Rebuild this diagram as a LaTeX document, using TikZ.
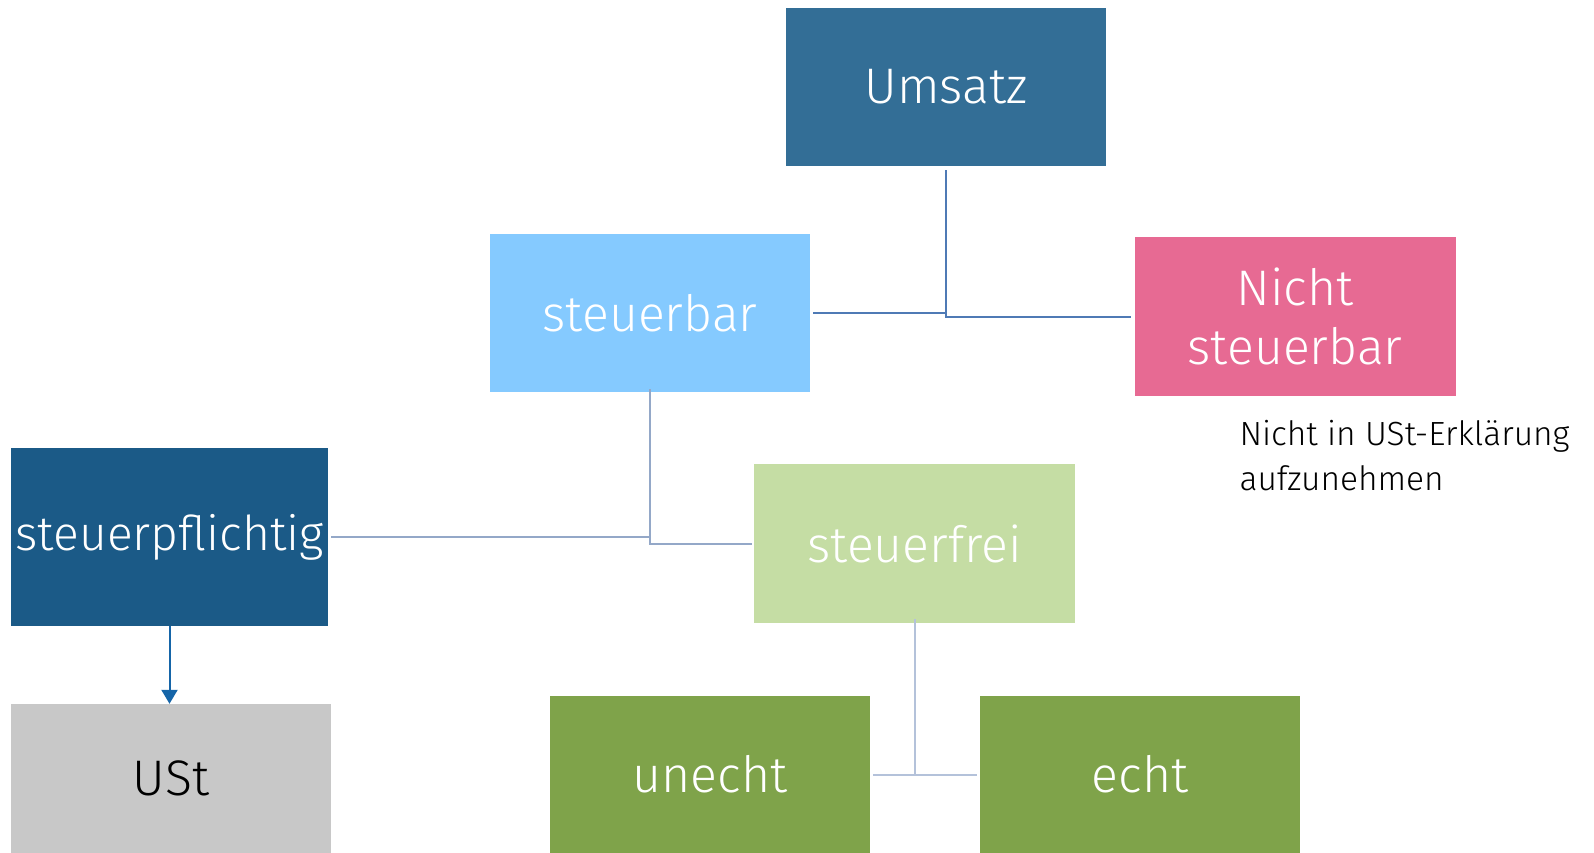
\documentclass[tikz,border=0pt]{standalone}
\usepackage{fontspec}
\setmainfont{Fira Sans}[UprightFont=* Light]
\usetikzlibrary{arrows.meta}
\definecolor{umsblue}{HTML}{336E96}
\definecolor{lightblue}{HTML}{85CAFF}
\definecolor{pink}{HTML}{E76A93}
\definecolor{darkblue}{HTML}{1B5A87}
\definecolor{palegreen}{HTML}{C5DDA4}
\definecolor{olive}{HTML}{7FA34A}
\definecolor{ustgray}{HTML}{C8C8C8}
\definecolor{lineA}{HTML}{4F7AB5}
\definecolor{lineB}{HTML}{94A8C8}
\definecolor{lineC}{HTML}{B4C2DA}
\definecolor{arrowblue}{HTML}{1565A8}
\tikzset{
  box/.style={rectangle,inner sep=0pt,minimum width=320pt,minimum height=158pt,
    text=white,align=center,font=\fontsize{50}{59}\selectfont},
  link/.style={line width=2pt}
}
\begin{document}
\begin{tikzpicture}[x=1pt,y=-1pt]
  \useasboundingbox (0,0) rectangle (1594,853);
  \node[box,fill=umsblue](umsatz) at (946,87){Umsatz};
  \node[box,fill=lightblue](steuerbar) at (650,313){steuerbar};
  \node[box,fill=pink,minimum width=321pt,minimum height=159pt](nicht) at (1295,316.5){Nicht\\steuerbar};
  \node[box,fill=darkblue,minimum width=317pt,minimum height=178pt,
    font=\fontsize{48}{56}\selectfont](pflichtig) at (169.5,537){steuerpflichtig};
  \node[box,fill=ustgray,text=black,minimum height=149pt](ust) at (171,778.5){USt};
  \node[box,fill=palegreen,minimum width=321pt,minimum height=159pt](frei) at (914.5,543.5){steuerfrei};
  \node[box,fill=olive,minimum height=157pt](unecht) at (710,774.5){unecht};
  \node[box,fill=olive,minimum height=157pt](echt) at (1140,774.5){echt};
  \node[anchor=base west,align=left,font=\fontsize{33.5}{45}\selectfont](hinweis) at (1236,490)
    {Nicht in USt-Erklärung\\aufzunehmen};
  % Umsatz
  \draw[link,lineA](umsatz.south)++(0,4)--(umsatz.south|-nicht.west)--([xshift=-3pt]nicht.west);
  \draw[link,lineA]([xshift=3pt]steuerbar.east)--(umsatz.south|-steuerbar.east);
  % steuerbar
  \draw[link,lineB]([yshift=3pt]steuerbar.south)--(steuerbar.south|-frei.west)--([xshift=-2pt]frei.west);
  \draw[link,lineB]([xshift=3pt]pflichtig.east)--(steuerbar.south|-pflichtig.east);
  % steuerfrei
  \draw[link,lineC]([yshift=4pt]frei.south)--(frei.south|-unecht.east);
  \draw[link,lineC]([xshift=3pt]unecht.east)--([xshift=-3pt]echt.west);
  \draw[-{Triangle[width=16pt,length=14pt]},line width=2pt,arrowblue](pflichtig.south)--(pflichtig.south|-ust.north);
\end{tikzpicture}
\end{document}
